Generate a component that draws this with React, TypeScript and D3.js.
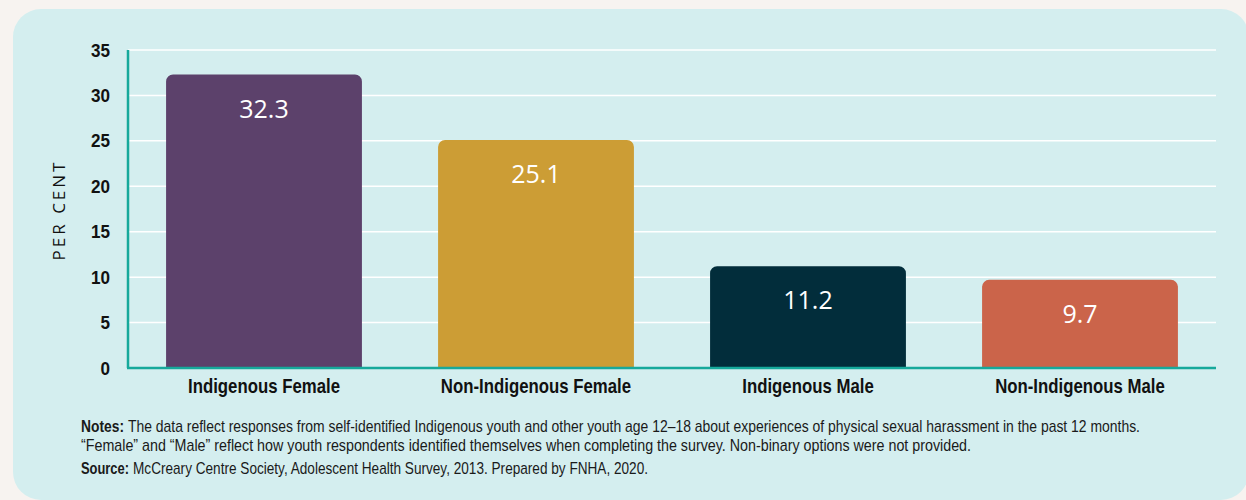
import React from "react";
import * as d3 from "d3";

const categories = ["Indigenous Female", "Non-Indigenous Female", "Indigenous Male", "Non-Indigenous Male"];
const values = [32.3, 25.1, 11.2, 9.7];
const valueLabels = ["32.3", "25.1", "11.2", "9.7"];
const colors = ["#5c416b", "#cc9d35", "#022d3b", "#cb644a"];
const yTicks = [0, 5, 10, 15, 20, 25, 30, 35];

const W = 1246;
const H = 500;
const left = 128;
const right = 1216;
const top = 50;
const bottom = 368;

const narrow = "'Liberation Sans', Arial, sans-serif";
const sx = 0.86; // horizontal squeeze for the notes block

function topRoundedRect(x: number, y: number, w: number, h: number, r: number) {
  const p = d3.path();
  p.moveTo(x, y + h);
  p.lineTo(x, y + r);
  p.arcTo(x, y, x + r, y, r);
  p.lineTo(x + w - r, y);
  p.arcTo(x + w, y, x + w, y + r, r);
  p.lineTo(x + w, y + h);
  p.closePath();
  return p.toString();
}

export default function App() {
  const x = d3.scaleBand<string>().domain(categories).range([left, right]).paddingInner(0.28).paddingOuter(0.14);
  const y = d3.scaleLinear().domain([0, 35]).range([bottom, top]);

  return (
    <svg width={W} height={H} style={{ position: "absolute", left: 0, top: 0 }}>
      <rect x={0} y={0} width={W} height={H} fill="#f7f3f0" />
      <rect x={13} y={9} width={1236} height={491} rx={28} fill="#d4eeef" />

      {yTicks.filter(t => t > 0).map(t => (
        <line key={"g" + t} x1={left} x2={right} y1={y(t)} y2={y(t)} stroke="#ffffff" strokeWidth={1.5} />
      ))}

      {categories.map((c, i) => {
        const bx = x(c)!;
        const by = y(values[i]);
        const cx = bx + x.bandwidth() / 2;
        return (
          <g key={c}>
            <path d={topRoundedRect(bx, by, x.bandwidth(), bottom - by, 7)} fill={colors[i]} />
            <text x={cx} y={by + 43} textAnchor="middle" fill="#ffffff"
              fontFamily="'Open Sans', 'Noto Sans', sans-serif" fontSize={25}>{valueLabels[i]}</text>
            <text transform={`translate(${cx},392.5) scale(0.84,1)`} textAnchor="middle" fill="#111111"
              fontFamily={narrow} fontWeight="bold" fontSize={20}>{c}</text>
          </g>
        );
      })}

      <line x1={left} x2={left} y1={top} y2={bottom} stroke="#16a99b" strokeWidth={2.5} />
      <line x1={left - 1} x2={right} y1={bottom} y2={bottom} stroke="#16a99b" strokeWidth={2.5} />

      {yTicks.map(t => (
        <text key={"t" + t} transform={`translate(110,${y(t) + 6.5}) scale(0.9,1)`} textAnchor="end" fill="#111111"
          fontFamily={narrow} fontWeight="bold" fontSize={19}>{t}</text>
      ))}

      <text transform="translate(65,210) rotate(-90)" textAnchor="middle" fill="#111111"
        fontFamily="'Open Sans', 'Noto Sans', sans-serif" fontSize={17} letterSpacing={3}>PER CENT</text>

      <g transform={`translate(81,0) scale(${sx},1)`} fontFamily={narrow} fontSize={16} fill="#1a1a1a">
        <text x={0} y={432.5} fontWeight="bold" textLength={43 / sx} lengthAdjust="spacingAndGlyphs">Notes:</text>
        <text x={47 / sx} y={432.5} textLength={1012 / sx} lengthAdjust="spacingAndGlyphs">
          The data reflect responses from self-identified Indigenous youth and other youth age 12–18 about experiences of physical sexual harassment in the past 12 months.
        </text>
        <text x={0} y={451.5} textLength={890 / sx} lengthAdjust="spacingAndGlyphs">
          “Female” and “Male” reflect how youth respondents identified themselves when completing the survey. Non-binary options were not provided.
        </text>
        <text x={0} y={474.5} fontWeight="bold" textLength={48 / sx} lengthAdjust="spacingAndGlyphs">Source:</text>
        <text x={52 / sx} y={474.5} textLength={515 / sx} lengthAdjust="spacingAndGlyphs">
          McCreary Centre Society, Adolescent Health Survey, 2013. Prepared by FNHA, 2020.
        </text>
      </g>
    </svg>
  );
}
